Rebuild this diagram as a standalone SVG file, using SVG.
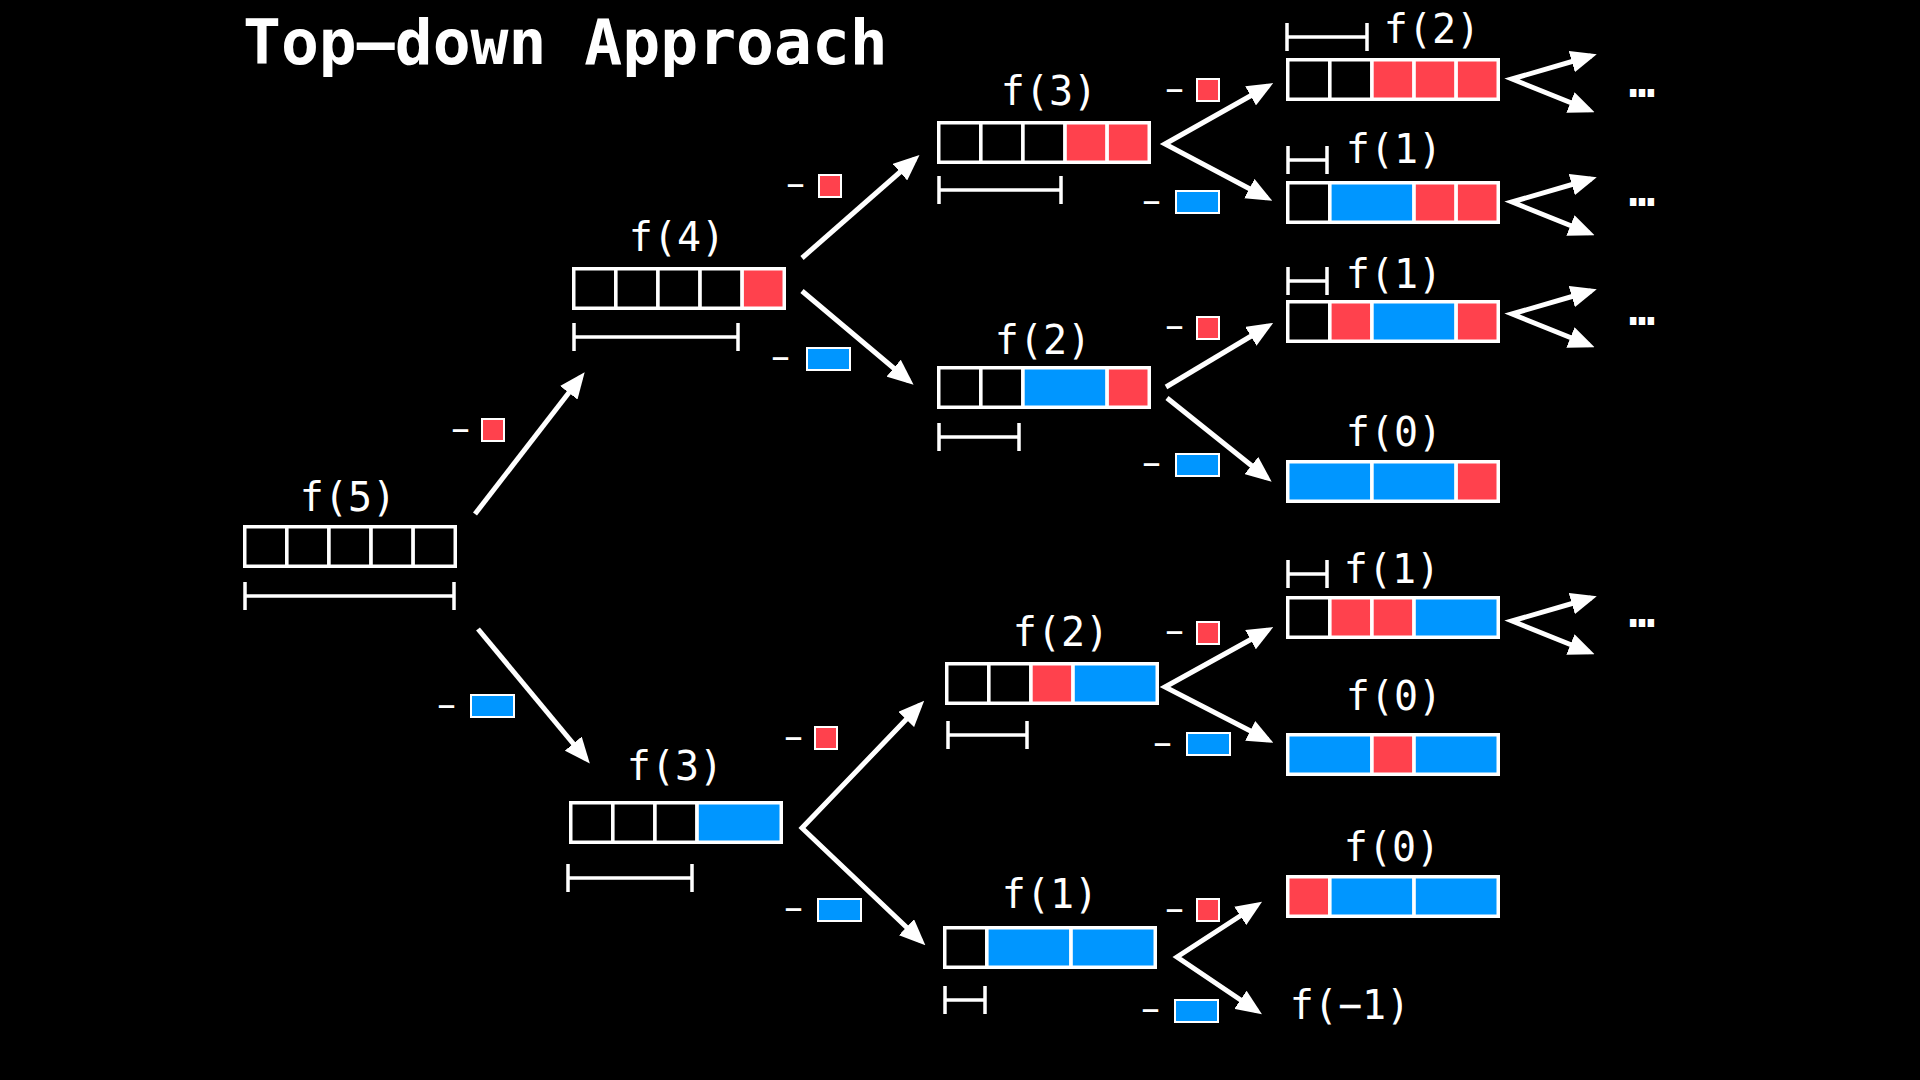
<svg xmlns="http://www.w3.org/2000/svg" width="1920" height="1080" viewBox="0 0 1920 1080">
<style>
.k{fill:#000;stroke:#fff;stroke-width:3.5}
.r{fill:#FF414D;stroke:#fff;stroke-width:3.5}
.b{fill:#0096FF;stroke:#fff;stroke-width:3.5}
.sr{fill:#FF414D;stroke:#fff;stroke-width:2}
.sb{fill:#0096FF;stroke:#fff;stroke-width:2}
.br{fill:none;stroke:#fff;stroke-width:3.5}
.lbl{font-family:"DejaVu Sans Mono","Liberation Mono",monospace;font-size:40px;fill:#fff;text-anchor:middle}
.ttl{font-family:"DejaVu Sans Mono","Liberation Mono",monospace;font-size:63px;font-weight:bold;fill:#fff}
.dots{font-family:"DejaVu Sans Mono","Liberation Mono",monospace;font-size:44px;font-weight:bold;fill:#fff;text-anchor:middle}
.m{font-family:"DejaVu Sans","Liberation Sans",sans-serif;font-size:38px;fill:#fff}
.ar{fill:none;stroke:#fff;stroke-width:5;stroke-linejoin:miter;marker-end:url(#ah)}
.v{fill:none;stroke:#fff;stroke-width:5;stroke-linejoin:miter;stroke-miterlimit:6;marker-start:url(#ah);marker-end:url(#ah)}
</style>
<defs>
<marker id="ah" markerUnits="userSpaceOnUse" markerWidth="26" markerHeight="22" viewBox="0 0 26 22" refX="20" refY="11" orient="auto-start-reverse">
<path d="M0,0 L26,11 L0,22 z" fill="#fff"/>
</marker>
</defs>
<rect x="0" y="0" width="1920" height="1080" fill="#000"/>
<text class="ttl" x="243" y="64">Top—down Approach</text>

<g id="f5">
<text class="lbl" x="348" y="511">f(5)</text>
<g transform="translate(243,525)">
<rect class="k" x="1.75" y="1.75" width="42.1" height="39.5"/>
<rect class="k" x="43.85" y="1.75" width="42.1" height="39.5"/>
<rect class="k" x="85.95" y="1.75" width="42.1" height="39.5"/>
<rect class="k" x="128.05" y="1.75" width="42.1" height="39.5"/>
<rect class="k" x="170.15" y="1.75" width="42.1" height="39.5"/>
</g>
<path class="br" d="M245,582V610M245,596H454M454,582V610"/>
</g>

<g id="f4">
<text class="lbl" x="677" y="251">f(4)</text>
<g transform="translate(572,267)">
<rect class="k" x="1.75" y="1.75" width="42.1" height="39.5"/>
<rect class="k" x="43.85" y="1.75" width="42.1" height="39.5"/>
<rect class="k" x="85.95" y="1.75" width="42.1" height="39.5"/>
<rect class="k" x="128.05" y="1.75" width="42.1" height="39.5"/>
<rect class="r" x="170.15" y="1.75" width="42.1" height="39.5"/>
</g>
<path class="br" d="M574,323V351M574,337H738M738,323V351"/>
</g>

<g id="f3-top">
<text class="lbl" x="1049" y="105">f(3)</text>
<g transform="translate(937,121)">
<rect class="k" x="1.75" y="1.75" width="42.1" height="39.5"/>
<rect class="k" x="43.85" y="1.75" width="42.1" height="39.5"/>
<rect class="k" x="85.95" y="1.75" width="42.1" height="39.5"/>
<rect class="r" x="128.05" y="1.75" width="42.1" height="39.5"/>
<rect class="r" x="170.15" y="1.75" width="42.1" height="39.5"/>
</g>
<path class="br" d="M939,176V204M939,190H1061M1061,176V204"/>
</g>

<g id="f2-mid">
<text class="lbl" x="1043" y="354">f(2)</text>
<g transform="translate(937,366)">
<rect class="k" x="1.75" y="1.75" width="42.1" height="39.5"/>
<rect class="k" x="43.85" y="1.75" width="42.1" height="39.5"/>
<rect class="b" x="85.95" y="1.75" width="84.2" height="39.5"/>
<rect class="r" x="170.15" y="1.75" width="42.1" height="39.5"/>
</g>
<path class="br" d="M939,423V451M939,437H1019M1019,423V451"/>
</g>

<g id="f2-low">
<text class="lbl" x="1061" y="646">f(2)</text>
<g transform="translate(945,662)">
<rect class="k" x="1.75" y="1.75" width="42.1" height="39.5"/>
<rect class="k" x="43.85" y="1.75" width="42.1" height="39.5"/>
<rect class="r" x="85.95" y="1.75" width="42.1" height="39.5"/>
<rect class="b" x="128.05" y="1.75" width="84.2" height="39.5"/>
</g>
<path class="br" d="M948,721V749M948,735H1027M1027,721V749"/>
</g>

<g id="f3-low">
<text class="lbl" x="675" y="780">f(3)</text>
<g transform="translate(569,801)">
<rect class="k" x="1.75" y="1.75" width="42.1" height="39.5"/>
<rect class="k" x="43.85" y="1.75" width="42.1" height="39.5"/>
<rect class="k" x="85.95" y="1.75" width="42.1" height="39.5"/>
<rect class="b" x="128.05" y="1.75" width="84.2" height="39.5"/>
</g>
<path class="br" d="M568,864V892M568,878H692M692,864V892"/>
</g>

<g id="f1-low">
<text class="lbl" x="1050" y="908">f(1)</text>
<g transform="translate(943,926)">
<rect class="k" x="1.75" y="1.75" width="42.1" height="39.5"/>
<rect class="b" x="43.85" y="1.75" width="84.2" height="39.5"/>
<rect class="b" x="128.05" y="1.75" width="84.2" height="39.5"/>
</g>
<path class="br" d="M945,986V1014M945,1000H985M985,986V1014"/>
</g>

<g id="r1-f2">
<text class="lbl" x="1432" y="43">f(2)</text>
<g transform="translate(1286,58)">
<rect class="k" x="1.75" y="1.75" width="42.1" height="39.5"/>
<rect class="k" x="43.85" y="1.75" width="42.1" height="39.5"/>
<rect class="r" x="85.95" y="1.75" width="42.1" height="39.5"/>
<rect class="r" x="128.05" y="1.75" width="42.1" height="39.5"/>
<rect class="r" x="170.15" y="1.75" width="42.1" height="39.5"/>
</g>
<path class="br" d="M1287,23V51M1287,37H1367M1367,23V51"/>
</g>

<g id="r2-f1">
<text class="lbl" x="1394" y="163">f(1)</text>
<g transform="translate(1286,181)">
<rect class="k" x="1.75" y="1.75" width="42.1" height="39.5"/>
<rect class="b" x="43.85" y="1.75" width="84.2" height="39.5"/>
<rect class="r" x="128.05" y="1.75" width="42.1" height="39.5"/>
<rect class="r" x="170.15" y="1.75" width="42.1" height="39.5"/>
</g>
<path class="br" d="M1288,146V174M1288,160H1327M1327,146V174"/>
</g>

<g id="r3-f1">
<text class="lbl" x="1394" y="288">f(1)</text>
<g transform="translate(1286,300)">
<rect class="k" x="1.75" y="1.75" width="42.1" height="39.5"/>
<rect class="r" x="43.85" y="1.75" width="42.1" height="39.5"/>
<rect class="b" x="85.95" y="1.75" width="84.2" height="39.5"/>
<rect class="r" x="170.15" y="1.75" width="42.1" height="39.5"/>
</g>
<path class="br" d="M1288,267V295M1288,281H1327M1327,267V295"/>
</g>

<g id="r4-f0">
<text class="lbl" x="1394" y="446">f(0)</text>
<g transform="translate(1286,460)">
<rect class="b" x="1.75" y="1.75" width="84.2" height="39.5"/>
<rect class="b" x="85.95" y="1.75" width="84.2" height="39.5"/>
<rect class="r" x="170.15" y="1.75" width="42.1" height="39.5"/>
</g>
</g>

<g id="r5-f1">
<text class="lbl" x="1392" y="583">f(1)</text>
<g transform="translate(1286,596)">
<rect class="k" x="1.75" y="1.75" width="42.1" height="39.5"/>
<rect class="r" x="43.85" y="1.75" width="42.1" height="39.5"/>
<rect class="r" x="85.95" y="1.75" width="42.1" height="39.5"/>
<rect class="b" x="128.05" y="1.75" width="84.2" height="39.5"/>
</g>
<path class="br" d="M1288,560V588M1288,574H1327M1327,560V588"/>
</g>

<g id="r6-f0">
<text class="lbl" x="1394" y="710">f(0)</text>
<g transform="translate(1286,733)">
<rect class="b" x="1.75" y="1.75" width="84.2" height="39.5"/>
<rect class="r" x="85.95" y="1.75" width="42.1" height="39.5"/>
<rect class="b" x="128.05" y="1.75" width="84.2" height="39.5"/>
</g>
</g>

<g id="r7-f0">
<text class="lbl" x="1392" y="861">f(0)</text>
<g transform="translate(1286,875)">
<rect class="r" x="1.75" y="1.75" width="42.1" height="39.5"/>
<rect class="b" x="43.85" y="1.75" width="84.2" height="39.5"/>
<rect class="b" x="128.05" y="1.75" width="84.2" height="39.5"/>
</g>
</g>

<g id="r8-fm1">
<text class="lbl" x="1350" y="1019">f(−1)</text>
</g>

<g id="more">
<text class="dots" x="1642" y="97">…</text>
<text class="dots" x="1642" y="206">…</text>
<text class="dots" x="1642" y="325">…</text>
<text class="dots" x="1642" y="627">…</text>
</g>

<g id="connectors">
<line class="ar" x1="475" y1="514" x2="581" y2="377"/>
<line class="ar" x1="478" y1="629" x2="586" y2="759"/>
<line class="ar" x1="802" y1="258" x2="915" y2="159"/>
<line class="ar" x1="802" y1="291" x2="909" y2="381"/>
<polyline class="v" points="1268,86 1165,144 1267,198"/>
<line class="ar" x1="1166" y1="387" x2="1268" y2="326"/>
<line class="ar" x1="1167" y1="398" x2="1267" y2="478"/>
<polyline class="v" points="920,705 802,828 921,941"/>
<polyline class="v" points="1268,630 1165,687 1268,740"/>
<polyline class="v" points="1257,905 1177,957 1257,1011"/>
<polyline class="v" points="1591,56 1512,79 1589,110"/>
<polyline class="v" points="1591,179 1512,202 1589,233"/>
<polyline class="v" points="1591,291 1512,314 1589,345"/>
<polyline class="v" points="1591,598 1512,621 1589,652"/>
</g>

<g id="edge-labels">
<text class="m" x="451" y="441">–</text><rect class="sr" x="482" y="419" width="22" height="22"/>
<text class="m" x="437" y="717">–</text><rect class="sb" x="471" y="695" width="43" height="22"/>
<text class="m" x="786" y="196">–</text><rect class="sr" x="819" y="175" width="22" height="22"/>
<text class="m" x="771" y="369">–</text><rect class="sb" x="807" y="348" width="43" height="22"/>
<text class="m" x="1165" y="101">–</text><rect class="sr" x="1197" y="79" width="22" height="22"/>
<text class="m" x="1142" y="213">–</text><rect class="sb" x="1176" y="191" width="43" height="22"/>
<text class="m" x="1165" y="338">–</text><rect class="sr" x="1197" y="317" width="22" height="22"/>
<text class="m" x="1142" y="475">–</text><rect class="sb" x="1176" y="454" width="43" height="22"/>
<text class="m" x="784" y="749">–</text><rect class="sr" x="815" y="727" width="22" height="22"/>
<text class="m" x="784" y="920">–</text><rect class="sb" x="818" y="899" width="43" height="22"/>
<text class="m" x="1165" y="643">–</text><rect class="sr" x="1197" y="622" width="22" height="22"/>
<text class="m" x="1153" y="755">–</text><rect class="sb" x="1187" y="733" width="43" height="22"/>
<text class="m" x="1165" y="921">–</text><rect class="sr" x="1197" y="899" width="22" height="22"/>
<text class="m" x="1141" y="1021">–</text><rect class="sb" x="1175" y="1000" width="43" height="22"/>
</g>
</svg>
